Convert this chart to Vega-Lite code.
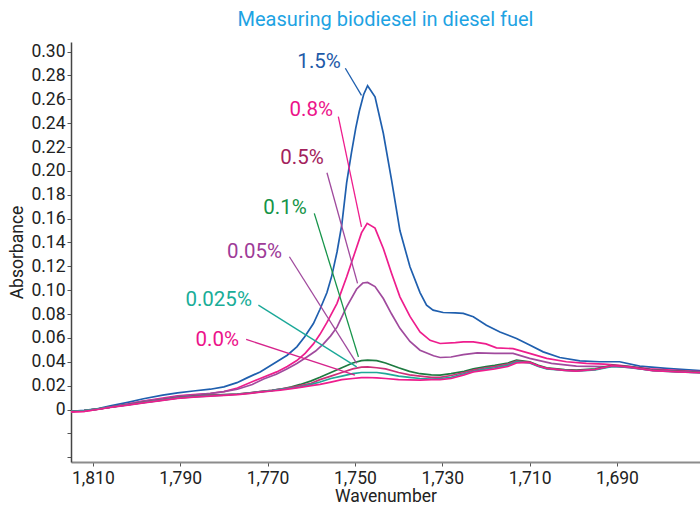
{
  "$schema": "https://vega.github.io/schema/vega-lite/v6.json",
  "width": 629,
  "height": 420,
  "autosize": {"type": "none"},
  "padding": {"left": 71, "top": 42, "right": 0, "bottom": 45},
  "background": "white",
  "config": {
    "font": "Roboto, sans-serif",
    "view": {"stroke": null}
  },
  "title": {
    "text": "Measuring biodiesel in diesel fuel",
    "color": "#1ea3e3",
    "fontSize": 20,
    "fontWeight": "normal",
    "anchor": "middle",
    "offset": 12
  },
  "datasets": {
    "curves": [
      {"s":"1.5%","x":1815,"y":-0.0015},{"s":"1.5%","x":1812,"y":-0.0008},{"s":"1.5%","x":1809,"y":0.0005},{"s":"1.5%","x":1806,"y":0.003},{"s":"1.5%","x":1802,"y":0.006},{"s":"1.5%","x":1798.4,"y":0.009},{"s":"1.5%","x":1794,"y":0.012},{"s":"1.5%","x":1790.6,"y":0.014},{"s":"1.5%","x":1787,"y":0.0155},{"s":"1.5%","x":1783.1,"y":0.017},{"s":"1.5%","x":1780,"y":0.019},{"s":"1.5%","x":1777,"y":0.0225},{"s":"1.5%","x":1774.7,"y":0.0265},{"s":"1.5%","x":1771.7,"y":0.0315},{"s":"1.5%","x":1767.9,"y":0.04},{"s":"1.5%","x":1765.5,"y":0.0455},{"s":"1.5%","x":1763.3,"y":0.0525},{"s":"1.5%","x":1761.5,"y":0.061},{"s":"1.5%","x":1759.5,"y":0.072},{"s":"1.5%","x":1758,"y":0.084},{"s":"1.5%","x":1756.4,"y":0.098},{"s":"1.5%","x":1755.3,"y":0.112},{"s":"1.5%","x":1754.1,"y":0.132},{"s":"1.5%","x":1753,"y":0.155},{"s":"1.5%","x":1751.9,"y":0.19},{"s":"1.5%","x":1750.8,"y":0.215},{"s":"1.5%","x":1749.8,"y":0.236},{"s":"1.5%","x":1749,"y":0.25},{"s":"1.5%","x":1748,"y":0.264},{"s":"1.5%","x":1747.1,"y":0.2714},{"s":"1.5%","x":1745.4,"y":0.262},{"s":"1.5%","x":1743.5,"y":0.2315},{"s":"1.5%","x":1741.6,"y":0.192},{"s":"1.5%","x":1739.7,"y":0.15},{"s":"1.5%","x":1737.4,"y":0.1196},{"s":"1.5%","x":1735.1,"y":0.098},{"s":"1.5%","x":1733.6,"y":0.0875},{"s":"1.5%","x":1732.1,"y":0.0833},{"s":"1.5%","x":1729.8,"y":0.0813},{"s":"1.5%","x":1727,"y":0.081},{"s":"1.5%","x":1725.2,"y":0.0805},{"s":"1.5%","x":1722.9,"y":0.0777},{"s":"1.5%","x":1719.9,"y":0.0707},{"s":"1.5%","x":1716.8,"y":0.065},{"s":"1.5%","x":1713,"y":0.0595},{"s":"1.5%","x":1710,"y":0.054},{"s":"1.5%","x":1706.9,"y":0.0483},{"s":"1.5%","x":1703.1,"y":0.0436},{"s":"1.5%","x":1698.5,"y":0.0408},{"s":"1.5%","x":1694,"y":0.04},{"s":"1.5%","x":1689.4,"y":0.04},{"s":"1.5%","x":1684.8,"y":0.0363},{"s":"1.5%","x":1678.7,"y":0.0344},{"s":"1.5%","x":1672.7,"y":0.033},{"s":"1.5%","x":1670,"y":0.0325},

      {"s":"0.8%","x":1815,"y":-0.002},{"s":"0.8%","x":1812,"y":-0.0015},{"s":"0.8%","x":1809,"y":0},{"s":"0.8%","x":1806,"y":0.002},{"s":"0.8%","x":1802,"y":0.0045},{"s":"0.8%","x":1798.4,"y":0.007},{"s":"0.8%","x":1794,"y":0.0095},{"s":"0.8%","x":1790.6,"y":0.0115},{"s":"0.8%","x":1787,"y":0.0125},{"s":"0.8%","x":1783.1,"y":0.0134},{"s":"0.8%","x":1780,"y":0.015},{"s":"0.8%","x":1776.9,"y":0.018},{"s":"0.8%","x":1772.4,"y":0.025},{"s":"0.8%","x":1767.9,"y":0.0315},{"s":"0.8%","x":1765.5,"y":0.036},{"s":"0.8%","x":1763.3,"y":0.041},{"s":"0.8%","x":1761.4,"y":0.047},{"s":"0.8%","x":1759.5,"y":0.055},{"s":"0.8%","x":1758,"y":0.063},{"s":"0.8%","x":1756.4,"y":0.073},{"s":"0.8%","x":1754.1,"y":0.089},{"s":"0.8%","x":1751.9,"y":0.111},{"s":"0.8%","x":1749.6,"y":0.136},{"s":"0.8%","x":1748.5,"y":0.148},{"s":"0.8%","x":1747.2,"y":0.156},{"s":"0.8%","x":1745.4,"y":0.152},{"s":"0.8%","x":1743.5,"y":0.135},{"s":"0.8%","x":1741.6,"y":0.114},{"s":"0.8%","x":1739.7,"y":0.0944},{"s":"0.8%","x":1737.4,"y":0.078},{"s":"0.8%","x":1735.1,"y":0.065},{"s":"0.8%","x":1732.8,"y":0.058},{"s":"0.8%","x":1730.5,"y":0.0553},{"s":"0.8%","x":1727,"y":0.056},{"s":"0.8%","x":1725.2,"y":0.0567},{"s":"0.8%","x":1722.9,"y":0.0567},{"s":"0.8%","x":1720,"y":0.055},{"s":"0.8%","x":1717.6,"y":0.0517},{"s":"0.8%","x":1713.8,"y":0.051},{"s":"0.8%","x":1710,"y":0.047},{"s":"0.8%","x":1706.1,"y":0.0428},{"s":"0.8%","x":1701.6,"y":0.04},{"s":"0.8%","x":1697,"y":0.0386},{"s":"0.8%","x":1693,"y":0.038},{"s":"0.8%","x":1689.4,"y":0.037},{"s":"0.8%","x":1682.5,"y":0.034},{"s":"0.8%","x":1672.7,"y":0.032},{"s":"0.8%","x":1670,"y":0.0315},

      {"s":"0.5%","x":1815,"y":-0.0015},{"s":"0.5%","x":1812,"y":-0.001},{"s":"0.5%","x":1809,"y":0.0003},{"s":"0.5%","x":1806,"y":0.002},{"s":"0.5%","x":1802,"y":0.0045},{"s":"0.5%","x":1798.4,"y":0.007},{"s":"0.5%","x":1794,"y":0.009},{"s":"0.5%","x":1790.6,"y":0.011},{"s":"0.5%","x":1787,"y":0.012},{"s":"0.5%","x":1783.1,"y":0.0135},{"s":"0.5%","x":1780,"y":0.015},{"s":"0.5%","x":1776.9,"y":0.017},{"s":"0.5%","x":1773.5,"y":0.021},{"s":"0.5%","x":1770.9,"y":0.0255},{"s":"0.5%","x":1768,"y":0.0295},{"s":"0.5%","x":1765.6,"y":0.034},{"s":"0.5%","x":1763.3,"y":0.0385},{"s":"0.5%","x":1761,"y":0.044},{"s":"0.5%","x":1759,"y":0.049},{"s":"0.5%","x":1757.2,"y":0.055},{"s":"0.5%","x":1755.6,"y":0.0615},{"s":"0.5%","x":1754.1,"y":0.069},{"s":"0.5%","x":1751.9,"y":0.086},{"s":"0.5%","x":1749.6,"y":0.101},{"s":"0.5%","x":1748.2,"y":0.106},{"s":"0.5%","x":1747.1,"y":0.1065},{"s":"0.5%","x":1745.4,"y":0.103},{"s":"0.5%","x":1743.5,"y":0.093},{"s":"0.5%","x":1741.6,"y":0.08},{"s":"0.5%","x":1739.7,"y":0.068},{"s":"0.5%","x":1737.4,"y":0.057},{"s":"0.5%","x":1735.1,"y":0.0497},{"s":"0.5%","x":1732,"y":0.045},{"s":"0.5%","x":1730.5,"y":0.0436},{"s":"0.5%","x":1728,"y":0.044},{"s":"0.5%","x":1725.2,"y":0.046},{"s":"0.5%","x":1722,"y":0.0475},{"s":"0.5%","x":1718,"y":0.047},{"s":"0.5%","x":1713.8,"y":0.047},{"s":"0.5%","x":1710,"y":0.0428},{"s":"0.5%","x":1705,"y":0.0386},{"s":"0.5%","x":1699.3,"y":0.0363},{"s":"0.5%","x":1693,"y":0.036},{"s":"0.5%","x":1689.4,"y":0.036},{"s":"0.5%","x":1682,"y":0.033},{"s":"0.5%","x":1672.7,"y":0.031},{"s":"0.5%","x":1670,"y":0.031},

      {"s":"0.1%","x":1815,"y":-0.0015},{"s":"0.1%","x":1812,"y":-0.001},{"s":"0.1%","x":1809,"y":0.0003},{"s":"0.1%","x":1806,"y":0.002},{"s":"0.1%","x":1802,"y":0.004},{"s":"0.1%","x":1798.4,"y":0.006},{"s":"0.1%","x":1794,"y":0.008},{"s":"0.1%","x":1790.6,"y":0.01},{"s":"0.1%","x":1787,"y":0.011},{"s":"0.1%","x":1783.1,"y":0.012},{"s":"0.1%","x":1780,"y":0.0125},{"s":"0.1%","x":1776.9,"y":0.013},{"s":"0.1%","x":1774,"y":0.014},{"s":"0.1%","x":1771.7,"y":0.015},{"s":"0.1%","x":1769,"y":0.016},{"s":"0.1%","x":1767.1,"y":0.017},{"s":"0.1%","x":1764.5,"y":0.019},{"s":"0.1%","x":1762.5,"y":0.021},{"s":"0.1%","x":1760,"y":0.024},{"s":"0.1%","x":1758,"y":0.027},{"s":"0.1%","x":1755.5,"y":0.031},{"s":"0.1%","x":1753,"y":0.035},{"s":"0.1%","x":1750.5,"y":0.039},{"s":"0.1%","x":1748.5,"y":0.041},{"s":"0.1%","x":1747.1,"y":0.0413},{"s":"0.1%","x":1745,"y":0.041},{"s":"0.1%","x":1743,"y":0.039},{"s":"0.1%","x":1740,"y":0.035},{"s":"0.1%","x":1737.5,"y":0.032},{"s":"0.1%","x":1735.1,"y":0.03},{"s":"0.1%","x":1732.5,"y":0.029},{"s":"0.1%","x":1730.5,"y":0.0288},{"s":"0.1%","x":1728,"y":0.03},{"s":"0.1%","x":1725,"y":0.032},{"s":"0.1%","x":1722.9,"y":0.034},{"s":"0.1%","x":1720,"y":0.036},{"s":"0.1%","x":1718,"y":0.037},{"s":"0.1%","x":1715,"y":0.039},{"s":"0.1%","x":1713,"y":0.0413},{"s":"0.1%","x":1710,"y":0.04},{"s":"0.1%","x":1708,"y":0.037},{"s":"0.1%","x":1706.1,"y":0.035},{"s":"0.1%","x":1702,"y":0.0335},{"s":"0.1%","x":1699.3,"y":0.033},{"s":"0.1%","x":1695,"y":0.034},{"s":"0.1%","x":1691,"y":0.037},{"s":"0.1%","x":1687,"y":0.036},{"s":"0.1%","x":1681.8,"y":0.033},{"s":"0.1%","x":1676,"y":0.032},{"s":"0.1%","x":1672.7,"y":0.0315},{"s":"0.1%","x":1670,"y":0.031},

      {"s":"0.05%","x":1815,"y":-0.0015},{"s":"0.05%","x":1812,"y":-0.001},{"s":"0.05%","x":1809,"y":0.0003},{"s":"0.05%","x":1806,"y":0.002},{"s":"0.05%","x":1802,"y":0.004},{"s":"0.05%","x":1798.4,"y":0.006},{"s":"0.05%","x":1794,"y":0.008},{"s":"0.05%","x":1790.6,"y":0.0098},{"s":"0.05%","x":1787,"y":0.0108},{"s":"0.05%","x":1783.1,"y":0.0118},{"s":"0.05%","x":1780,"y":0.0123},{"s":"0.05%","x":1776.9,"y":0.013},{"s":"0.05%","x":1774,"y":0.014},{"s":"0.05%","x":1771.7,"y":0.015},{"s":"0.05%","x":1769,"y":0.016},{"s":"0.05%","x":1767.1,"y":0.017},{"s":"0.05%","x":1764.5,"y":0.0185},{"s":"0.05%","x":1762.5,"y":0.02},{"s":"0.05%","x":1760,"y":0.022},{"s":"0.05%","x":1758,"y":0.025},{"s":"0.05%","x":1755.5,"y":0.028},{"s":"0.05%","x":1753,"y":0.031},{"s":"0.05%","x":1750.5,"y":0.034},{"s":"0.05%","x":1748.5,"y":0.0355},{"s":"0.05%","x":1747.1,"y":0.0357},{"s":"0.05%","x":1745,"y":0.035},{"s":"0.05%","x":1743,"y":0.034},{"s":"0.05%","x":1740,"y":0.031},{"s":"0.05%","x":1737.5,"y":0.029},{"s":"0.05%","x":1735.1,"y":0.028},{"s":"0.05%","x":1732.5,"y":0.027},{"s":"0.05%","x":1730.5,"y":0.027},{"s":"0.05%","x":1728,"y":0.0285},{"s":"0.05%","x":1725,"y":0.031},{"s":"0.05%","x":1722.9,"y":0.033},{"s":"0.05%","x":1720,"y":0.035},{"s":"0.05%","x":1718,"y":0.036},{"s":"0.05%","x":1715,"y":0.038},{"s":"0.05%","x":1713,"y":0.0405},{"s":"0.05%","x":1710,"y":0.0395},{"s":"0.05%","x":1708,"y":0.0365},{"s":"0.05%","x":1706.1,"y":0.0345},{"s":"0.05%","x":1702,"y":0.033},{"s":"0.05%","x":1699.3,"y":0.0325},{"s":"0.05%","x":1695,"y":0.0335},{"s":"0.05%","x":1691,"y":0.0365},{"s":"0.05%","x":1687,"y":0.0355},{"s":"0.05%","x":1681.8,"y":0.0328},{"s":"0.05%","x":1676,"y":0.0318},{"s":"0.05%","x":1672.7,"y":0.0312},{"s":"0.05%","x":1670,"y":0.031},

      {"s":"0.025%","x":1815,"y":-0.0015},{"s":"0.025%","x":1812,"y":-0.001},{"s":"0.025%","x":1809,"y":0.0003},{"s":"0.025%","x":1806,"y":0.002},{"s":"0.025%","x":1802,"y":0.0038},{"s":"0.025%","x":1798.4,"y":0.0058},{"s":"0.025%","x":1794,"y":0.0078},{"s":"0.025%","x":1790.6,"y":0.0095},{"s":"0.025%","x":1787,"y":0.0105},{"s":"0.025%","x":1783.1,"y":0.0115},{"s":"0.025%","x":1780,"y":0.012},{"s":"0.025%","x":1776.9,"y":0.0128},{"s":"0.025%","x":1774,"y":0.0138},{"s":"0.025%","x":1771.7,"y":0.0148},{"s":"0.025%","x":1769,"y":0.0158},{"s":"0.025%","x":1767.1,"y":0.0168},{"s":"0.025%","x":1764.5,"y":0.018},{"s":"0.025%","x":1762.5,"y":0.019},{"s":"0.025%","x":1760,"y":0.021},{"s":"0.025%","x":1758,"y":0.023},{"s":"0.025%","x":1755.5,"y":0.026},{"s":"0.025%","x":1753,"y":0.028},{"s":"0.025%","x":1750.5,"y":0.03},{"s":"0.025%","x":1748.5,"y":0.031},{"s":"0.025%","x":1747.1,"y":0.031},{"s":"0.025%","x":1745,"y":0.031},{"s":"0.025%","x":1743,"y":0.03},{"s":"0.025%","x":1740,"y":0.028},{"s":"0.025%","x":1737.5,"y":0.027},{"s":"0.025%","x":1735.1,"y":0.026},{"s":"0.025%","x":1732.5,"y":0.0255},{"s":"0.025%","x":1730.5,"y":0.026},{"s":"0.025%","x":1728,"y":0.027},{"s":"0.025%","x":1725,"y":0.03},{"s":"0.025%","x":1722.9,"y":0.032},{"s":"0.025%","x":1720,"y":0.034},{"s":"0.025%","x":1718,"y":0.035},{"s":"0.025%","x":1715,"y":0.037},{"s":"0.025%","x":1713,"y":0.04},{"s":"0.025%","x":1710,"y":0.039},{"s":"0.025%","x":1708,"y":0.036},{"s":"0.025%","x":1706.1,"y":0.034},{"s":"0.025%","x":1702,"y":0.0328},{"s":"0.025%","x":1699.3,"y":0.0322},{"s":"0.025%","x":1695,"y":0.0332},{"s":"0.025%","x":1691,"y":0.0362},{"s":"0.025%","x":1687,"y":0.0352},{"s":"0.025%","x":1681.8,"y":0.0325},{"s":"0.025%","x":1676,"y":0.0315},{"s":"0.025%","x":1672.7,"y":0.031},{"s":"0.025%","x":1670,"y":0.0308},

      {"s":"0.0%","x":1815,"y":-0.002},{"s":"0.0%","x":1812,"y":-0.0015},{"s":"0.0%","x":1809,"y":0},{"s":"0.0%","x":1806,"y":0.0018},{"s":"0.0%","x":1802,"y":0.0036},{"s":"0.0%","x":1798.4,"y":0.0056},{"s":"0.0%","x":1794,"y":0.0076},{"s":"0.0%","x":1790.6,"y":0.0093},{"s":"0.0%","x":1787,"y":0.0103},{"s":"0.0%","x":1783.1,"y":0.0112},{"s":"0.0%","x":1780,"y":0.0118},{"s":"0.0%","x":1776.9,"y":0.0125},{"s":"0.0%","x":1774,"y":0.0135},{"s":"0.0%","x":1771.7,"y":0.0145},{"s":"0.0%","x":1769,"y":0.0155},{"s":"0.0%","x":1767.1,"y":0.0163},{"s":"0.0%","x":1764.5,"y":0.0175},{"s":"0.0%","x":1762.5,"y":0.0185},{"s":"0.0%","x":1760,"y":0.02},{"s":"0.0%","x":1758,"y":0.021},{"s":"0.0%","x":1755.5,"y":0.023},{"s":"0.0%","x":1753,"y":0.025},{"s":"0.0%","x":1750.5,"y":0.026},{"s":"0.0%","x":1748.5,"y":0.0267},{"s":"0.0%","x":1747.1,"y":0.0268},{"s":"0.0%","x":1745,"y":0.0265},{"s":"0.0%","x":1743,"y":0.026},{"s":"0.0%","x":1740,"y":0.025},{"s":"0.0%","x":1737.5,"y":0.0248},{"s":"0.0%","x":1735.1,"y":0.0246},{"s":"0.0%","x":1732.5,"y":0.025},{"s":"0.0%","x":1730.5,"y":0.025},{"s":"0.0%","x":1728,"y":0.026},{"s":"0.0%","x":1725,"y":0.029},{"s":"0.0%","x":1722.9,"y":0.0315},{"s":"0.0%","x":1720,"y":0.033},{"s":"0.0%","x":1718,"y":0.034},{"s":"0.0%","x":1715,"y":0.036},{"s":"0.0%","x":1713,"y":0.039},{"s":"0.0%","x":1710,"y":0.0395},{"s":"0.0%","x":1708,"y":0.0365},{"s":"0.0%","x":1706.1,"y":0.0345},{"s":"0.0%","x":1702,"y":0.0328},{"s":"0.0%","x":1699.3,"y":0.0322},{"s":"0.0%","x":1695,"y":0.0335},{"s":"0.0%","x":1691,"y":0.0368},{"s":"0.0%","x":1687,"y":0.0355},{"s":"0.0%","x":1681.8,"y":0.0325},{"s":"0.0%","x":1676,"y":0.0315},{"s":"0.0%","x":1672.7,"y":0.031},{"s":"0.0%","x":1670,"y":0.0308}
    ],
    "labels": [
      {"s":"1.5%","tx":1758.2,"ty":0.2912,"x1":1752.2,"y1":0.286,"x2":1748.5,"y2":0.2632},
      {"s":"0.8%","tx":1760.0,"ty":0.251,"x1":1753.8,"y1":0.2454,"x2":1748.5,"y2":0.1531},
      {"s":"0.5%","tx":1762.1,"ty":0.2107,"x1":1756.4,"y1":0.1984,"x2":1749.4,"y2":0.1057},
      {"s":"0.1%","tx":1766.0,"ty":0.1688,"x1":1759.3,"y1":0.1644,"x2":1749.2,"y2":0.0441},
      {"s":"0.05%","tx":1773.0,"ty":0.1319,"x1":1765.0,"y1":0.128,"x2":1749.6,"y2":0.0386},
      {"s":"0.025%","tx":1781.2,"ty":0.0917,"x1":1772.1,"y1":0.0875,"x2":1749.6,"y2":0.0357},
      {"s":"0.0%","tx":1781.5,"ty":0.0581,"x1":1774.9,"y1":0.0587,"x2":1750.0,"y2":0.0288}
    ]
  },
  "resolve": {"scale": {"color": "independent"}},
  "layer": [
    {
      "data": {"name": "curves"},
      "mark": {"type": "line", "strokeWidth": 1.7, "clip": true, "interpolate": "linear"},
      "encoding": {
        "x": {
          "field": "x", "type": "quantitative",
          "scale": {"domain": [1671, 1815], "reverse": true, "nice": false, "zero": false},
          "axis": {
            "title": "Wavenumber", "values": [1810, 1790, 1770, 1750, 1730, 1710, 1690], "format": ",d", "tickCount": 10,
            "grid": false, "domainColor": "#8c8c8c", "domainWidth": 2, "tickColor": "#555", "tickSize": 4,
            "labelFontSize": 17.5, "labelColor": "#222", "labelPadding": 3, "labelOverlap": false,
            "titleFontSize": 17.5, "titleFontWeight": "normal", "titleColor": "#222", "titlePadding": 1
          }
        },
        "y": {
          "field": "y", "type": "quantitative",
          "scale": {"domain": [-0.044, 0.308], "nice": false, "zero": false},
          "axis": {
            "title": "Absorbance",
            "values": [-0.04, -0.02, 0, 0.02, 0.04, 0.06, 0.08, 0.1, 0.12, 0.14, 0.16, 0.18, 0.2, 0.22, 0.24, 0.26, 0.28, 0.3],
            "tickCount": 20,
            "labelExpr": "datum.value < -0.001 ? '' : (abs(datum.value) < 0.001 ? '0' : format(datum.value, '.2f'))",
            "grid": false, "domainColor": "#444", "domainWidth": 1.5, "tickColor": "#555", "tickSize": 4,
            "labelFontSize": 17.5, "labelColor": "#222", "labelPadding": 2, "labelOverlap": false, "labelBound": false,
            "titleFontSize": 17.5, "titleFontWeight": "normal", "titleColor": "#222", "titlePadding": 4
          }
        },
        "color": {
          "field": "s", "type": "nominal", "legend": null,
          "scale": {
            "domain": ["1.5%", "0.8%", "0.5%", "0.1%", "0.05%", "0.025%", "0.0%"],
            "range": ["#1f5fae", "#ee1d8d", "#a04a9d", "#1e7a40", "#cc2f78", "#20a898", "#ee1d8d"]
          }
        }
      }
    },
    {
      "data": {"name": "labels"},
      "mark": {"type": "rule", "strokeWidth": 1.3},
      "encoding": {
        "x": {"field": "x1", "type": "quantitative", "title": "Wavenumber"},
        "y": {"field": "y1", "type": "quantitative", "title": "Absorbance"},
        "x2": {"field": "x2"},
        "y2": {"field": "y2"},
        "color": {
          "field": "s", "type": "nominal", "legend": null,
          "scale": {
            "domain": ["1.5%", "0.8%", "0.5%", "0.1%", "0.05%", "0.025%", "0.0%"],
            "range": ["#1f5fae", "#ee1d8d", "#a04a9d", "#16944a", "#a04a9d", "#1aa898", "#d6248c"]
          }
        }
      }
    },
    {
      "data": {"name": "labels"},
      "mark": {"type": "text", "fontSize": 20.5, "align": "center", "baseline": "middle"},
      "encoding": {
        "x": {"field": "tx", "type": "quantitative", "title": "Wavenumber"},
        "y": {"field": "ty", "type": "quantitative", "title": "Absorbance"},
        "text": {"field": "s"},
        "color": {
          "field": "s", "type": "nominal", "legend": null,
          "scale": {
            "domain": ["1.5%", "0.8%", "0.5%", "0.1%", "0.05%", "0.025%", "0.0%"],
            "range": ["#1e5aa8", "#ec138a", "#a3225c", "#149447", "#9e3b98", "#19ad98", "#ec138a"]
          }
        }
      }
    }
  ]
}
